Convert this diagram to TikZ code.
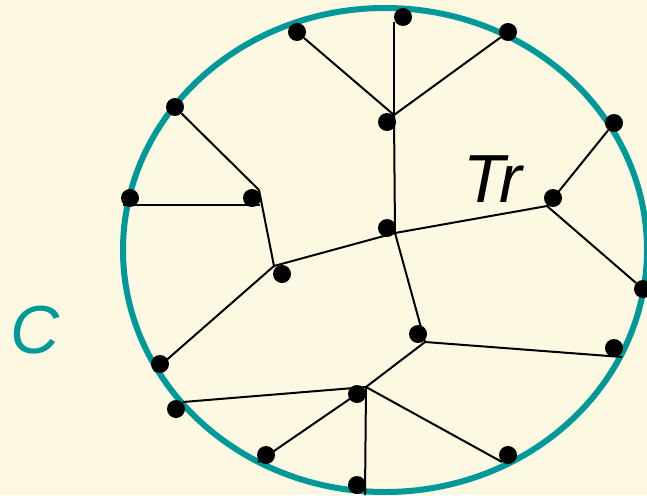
\documentclass[tikz,border=0pt]{standalone}
\usepackage{fontspec}
\setmainfont{Liberation Sans}
\definecolor{bgcream}{RGB}{253,248,226}
\definecolor{ringteal}{RGB}{0,153,153}
\begin{document}
\begin{tikzpicture}[x=1pt,y=-1pt,
  dot/.style={circle,fill=black,inner sep=0pt,minimum size=18pt},
  edge/.style={black,line width=2pt},
  ring/.style={ringteal,line width=6pt},
  label/.style={font=\fontsize{68}{68}\selectfont\itshape,inner sep=0pt,anchor=base west}]
\fill[bgcream] (0,0) rectangle (647,495);
\useasboundingbox (0,0) rectangle (647,495);
\draw[ring] (385,250) ellipse [x radius=262pt, y radius=242pt];
% junctions and free ends
\coordinate (J0) at (394,115);
\coordinate (J1) at (259,190);
\coordinate (J2) at (274,266);
\coordinate (J3) at (395,233);
\coordinate (J4) at (547,206);
\coordinate (J5) at (425,342);
\coordinate (J6) at (366,387);
\coordinate (t2) at (394,22);
\coordinate (hl) at (123,205);
\coordinate (hr) at (260,205);
\coordinate (e13) at (154,371);
\coordinate (e15) at (622,357);
\coordinate (e16) at (183,402);
\coordinate (e18) at (258,462);
\coordinate (e19) at (365,495);
\coordinate (e20) at (502,462);
% dots
\node[dot] (d1) at (297,32) {};
\node[dot] (d2) at (403,17) {};
\node[dot] (d3) at (508,32) {};
\node[dot] (d4) at (387,122) {};
\node[dot] (d5) at (175,107) {};
\node[dot] (d6) at (130,198) {};
\node[dot] (d7) at (252,198) {};
\node[dot] (d8) at (614,123) {};
\node[dot] (d9) at (553,198) {};
\node[dot] (d10) at (387,228) {};
\node[dot] (d11) at (282,274) {};
\node[dot] (d12) at (643,289) {};
\node[dot] (d13) at (160,364) {};
\node[dot] (d14) at (418,334) {};
\node[dot] (d15) at (614,348) {};
\node[dot] (d16) at (176,409) {};
\node[dot] (d17) at (357,394) {};
\node[dot] (d18) at (266,455) {};
\node[dot] (d19) at (357,485) {};
\node[dot] (d20) at (508,455) {};
% edges
\draw[edge] (J0) -- (d1);
\draw[edge] (J0) -- (t2);
\draw[edge] (J0) -- (d3);
\draw[edge] (J0) -- (J3);
\draw[edge] (J3) -- (J2);
\draw[edge] (J3) -- (J4);
\draw[edge] (J3) -- (J5);
\draw[edge] (J5) -- (e15);
\draw[edge] (J5) -- (J6);
\draw[edge] (J6) -- (e16);
\draw[edge] (J6) -- (e19);
\draw[edge] (J6) -- (e20);
\draw[edge] (d17.center) -- (e18);
\draw[edge] (J2) -- (e13);
\draw[edge] (J2) -- (J1);
\draw[edge] (J1) -- (d5);
\draw[edge] (hl) -- (hr);
\draw[edge] (J4) -- (d8);
\draw[edge] (J4) -- (d12);
% labels
\node[label,text=ringteal] (C) at (10,353) {C};
\node[label,text=black] (Tr) at (463,202) {Tr};
\end{tikzpicture}
\end{document}
